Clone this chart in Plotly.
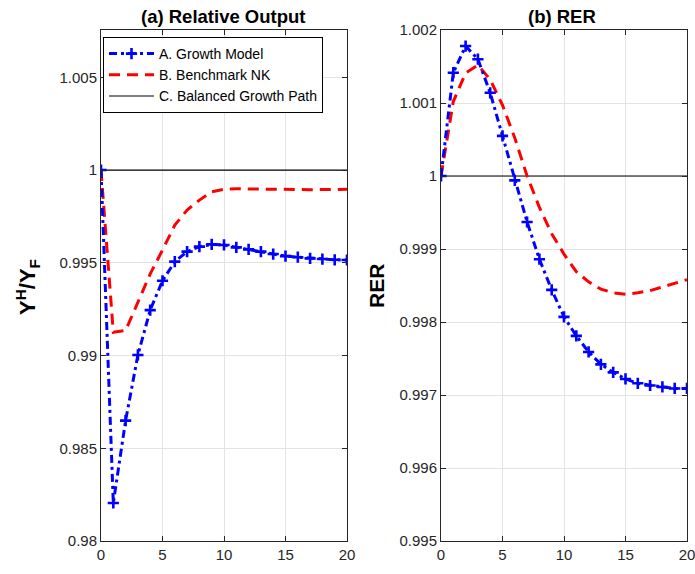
import plotly.graph_objects as go

t = list(range(0, 21))

# (a) Relative Output
growth_y = [1.0, 0.98205, 0.98649, 0.99003, 0.99245, 0.99403, 0.99506, 0.99560, 0.99587, 0.99599,
            0.99596, 0.99583, 0.99572, 0.99560, 0.99547, 0.99536, 0.99530, 0.99524, 0.99520, 0.99516, 0.99515]
bench_y = [1.0, 0.99125, 0.99135, 0.99283, 0.99440, 0.99569, 0.99703, 0.99784, 0.99838, 0.99883,
           0.99896, 0.99899, 0.99898, 0.99896, 0.99894, 0.99893, 0.99893, 0.99894, 0.99895, 0.99896, 0.99896]
bgp_y = [1.0] * 21

# (b) RER
growth_r = [1.0, 1.001415, 1.00178, 1.0016, 1.00114, 1.00055, 0.99994, 0.99937, 0.99886, 0.99844,
            0.99807, 0.99781, 0.99759, 0.99742, 0.99731, 0.99722, 0.99716, 0.99713, 0.99711, 0.99709, 0.99709]
bench_r = [1.0, 1.00102, 1.00141, 1.00152, 1.00132, 1.00097, 1.00052, 1.0, 0.99957, 0.99921,
           0.99893, 0.99869, 0.99855, 0.99845, 0.99840, 0.99838, 0.99840, 0.99843, 0.99848, 0.99853, 0.99858]
bgp_r = [1.0] * 21

xticks = [0, 5, 10, 15, 20]
yticks_a = [0.98, 0.985, 0.99, 0.995, 1.0, 1.005]
yticklabels_a = ["0.98", "0.985", "0.99", "0.995", "1", "1.005"]
yticks_b = [0.995, 0.996, 0.997, 0.998, 0.999, 1.0, 1.001, 1.002]
yticklabels_b = ["0.995", "0.996", "0.997", "0.998", "0.999", "1", "1.001", "1.002"]

names = ["A. Growth Model", "B. Benchmark NK", "C. Balanced Growth Path"]

BLUE = "#0000ff"
RED = "#ff0000"
FONT = "Liberation Sans, Arial, sans-serif"
AXC = "#262626"

fig = go.Figure()

def add_panel(xa, ya, g, b, p, show):
    fig.add_trace(go.Scatter(x=t, y=p, mode="lines", name=names[2], xaxis=xa, yaxis=ya,
                             line=dict(color="black", width=1.2), showlegend=show, legendrank=3))
    fig.add_trace(go.Scatter(x=t, y=b, mode="lines", name=names[1], xaxis=xa, yaxis=ya,
                             line=dict(color=RED, width=3, dash="11px,7px"), showlegend=show, legendrank=2))
    fig.add_trace(go.Scatter(x=t, y=g, mode="lines+markers", name=names[0], xaxis=xa, yaxis=ya,
                             line=dict(color=BLUE, width=3, dash="8px,4px,3px,4px"),
                             marker=dict(symbol="cross-thin", size=8, line=dict(color=BLUE, width=2.6)),
                             showlegend=show, legendrank=1))

add_panel("x", "y", growth_y, bench_y, bgp_y, True)
add_panel("x2", "y2", growth_r, bench_r, bgp_r, False)

ax_common = dict(showline=True, linecolor=AXC, linewidth=1, mirror="allticks", ticks="inside",
                 ticklen=5, tickcolor=AXC, showgrid=True, gridcolor="#e3e3e3", gridwidth=1,
                 zeroline=False, automargin=False, ticklabeloverflow="allow",
                 tickfont=dict(family=FONT, size=15, color=AXC))

y0 = 1 - 541 / 574
y1 = 1 - 30 / 574

fig.update_layout(
    width=695, height=574,
    margin=dict(l=0, r=0, t=0, b=0, autoexpand=False),
    paper_bgcolor="white", plot_bgcolor="white",
    font=dict(family=FONT, color=AXC),
    xaxis=dict(domain=[101 / 695, 347 / 695], range=[0, 20], tickvals=xticks, anchor="y", **ax_common),
    yaxis=dict(domain=[y0, y1], range=[0.98, 1.00755], tickvals=yticks_a, ticktext=yticklabels_a,
               anchor="x", **ax_common),
    xaxis2=dict(domain=[441 / 695, 687 / 695], range=[0, 20], tickvals=xticks, anchor="y2", **ax_common),
    yaxis2=dict(domain=[y0, y1], range=[0.995, 1.002], tickvals=yticks_b, ticktext=yticklabels_b,
                anchor="x2", **ax_common),
    legend=dict(x=103 / 695, y=1 - 37 / 574, xanchor="left", yanchor="top",
                bgcolor="white", bordercolor="black", borderwidth=1,
                font=dict(family=FONT, size=14, color="black"), itemwidth=45,
                tracegroupgap=0, traceorder="normal"),
    showlegend=True,
)

fig.add_annotation(text="<b>(a) Relative Output</b>", x=223 / 695, y=1 - 17 / 574, xref="paper", yref="paper",
                   showarrow=False, font=dict(family=FONT, size=18.5, color="black"), xanchor="center", yanchor="middle")
fig.add_annotation(text="<b>(b) RER</b>", x=562 / 695, y=1 - 17 / 574, xref="paper", yref="paper",
                   showarrow=False, font=dict(family=FONT, size=18.5, color="black"), xanchor="center", yanchor="middle")
fig.add_annotation(text="<b>Y<sup>H</sup>/Y<sub>F</sub></b>", x=27 / 695, y=1 - 287 / 574, xref="paper", yref="paper",
                   showarrow=False, textangle=-90, font=dict(family=FONT, size=22, color="black"),
                   xanchor="center", yanchor="middle")
fig.add_annotation(text="<b>RER</b>", x=376.5 / 695, y=1 - 286.5 / 574, xref="paper", yref="paper",
                   showarrow=False, textangle=-90, font=dict(family=FONT, size=21, color="black"),
                   xanchor="center", yanchor="middle")

fig.write_html("out.html")
